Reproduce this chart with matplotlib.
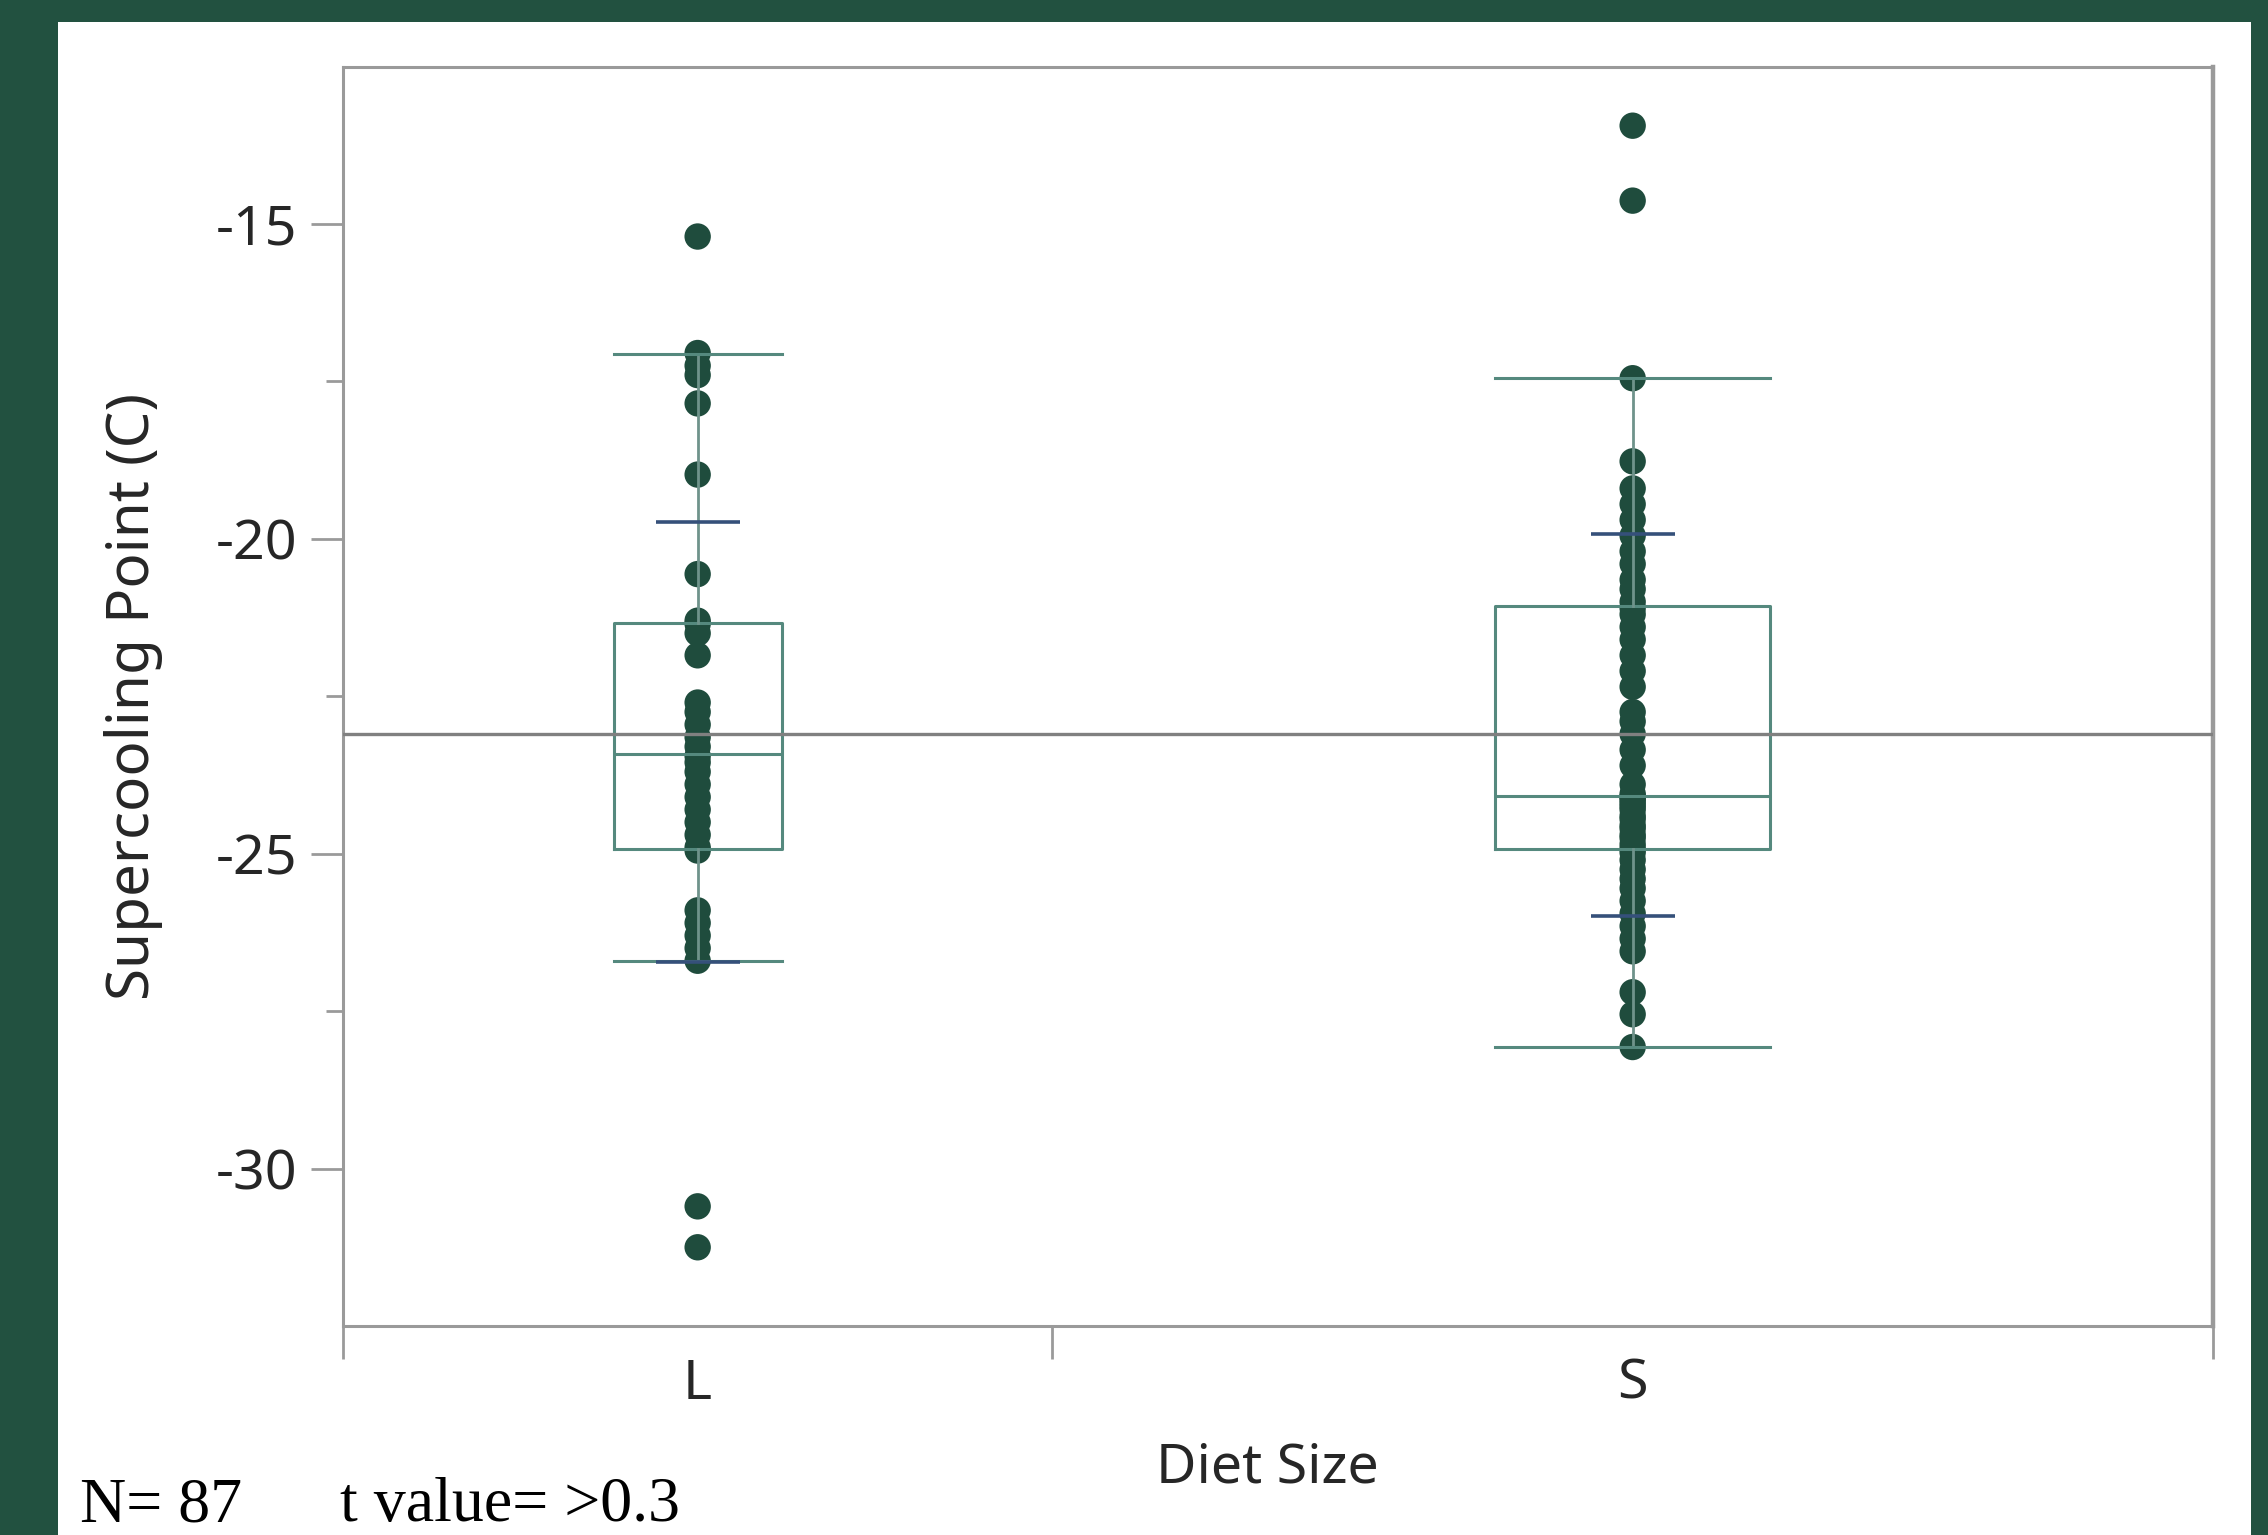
import numpy as np
import matplotlib.pyplot as plt
from matplotlib.patches import Rectangle

plt.rcParams['font.family'] = ['Noto Sans', 'DejaVu Sans']
plt.rcParams['axes.unicode_minus'] = False

# === Data ===
groups = ["L", "S"]
counts = [33, 54]

supercool_L = [-31.25, -30.6, -26.7, -26.5, -26.3, -26.1, -25.9, -24.95,
               -24.9, -24.7, -24.5, -24.3, -24.1, -23.9, -23.7, -23.55,
               -23.45, -23.3, -23.15, -22.95, -22.75, -22.6, -21.85, -21.5,
               -21.35, -21.3, -20.56, -18.98, -17.85, -17.4, -17.25, -17.05,
               -15.2]
supercool_S = [-28.07, -27.55, -27.2, -26.55, -26.35, -26.15, -25.95, -25.75,
               -25.55, -25.4, -25.25, -25.1, -24.98, -24.92, -24.85, -24.75,
               -24.7, -24.6, -24.55, -24.45, -24.4, -24.3, -24.25, -24.2,
               -24.15, -24.1, -24.1, -24.05, -23.9, -23.6, -23.35, -23.1,
               -22.9, -22.75, -22.35, -22.1, -21.85, -21.6, -21.4, -21.2,
               -21.1, -21.0, -20.8, -20.65, -20.4, -20.2, -19.95, -19.7,
               -19.45, -19.2, -18.77, -17.45, -14.63, -13.44]

# quantile box summaries (lower whisker, Q1, median, Q3, upper whisker)
whisker_lo = [-26.7, -28.07]
q1 = [-24.93, -24.93]
median = [-23.42, -24.08]
q3 = [-21.33, -21.07]
whisker_hi = [-17.07, -17.45]

# std dev lines
group_mean = [-23.23, -22.96]
group_sd = [3.49, 3.03]
grand_mean = -23.1

# === Style ===
bg_green = "#225140"
dot_c = "#1f4c3d"
box_c = "#55897e"
sd_c = "#35507a"
axis_c = "#9a9a9a"
text_c = "#262626"
fs = 40

W, H = 2268, 1535
fig = plt.figure(figsize=(W / 100, H / 100), dpi=100, facecolor=bg_green)
fig.patches.append(Rectangle((58 / W, 0), (2251 - 58) / W, 1 - 22 / H,
                             transform=fig.transFigure, facecolor="white",
                             edgecolor="none", zorder=-10))

ax = fig.add_axes([343 / W, 1 - 1326 / H, (2213 - 343) / W, (1326 - 66.5) / H])
ax.set_facecolor("white")

# category widths follow group sizes
frac = np.array(counts) / sum(counts)
edges = np.concatenate([[0], np.cumsum(frac)])
centers = (edges[:-1] + edges[1:]) / 2
box_w = 0.237 * frac
sd_w = 0.045

stats = []
for i in range(len(groups)):
    stats.append(dict(whislo=whisker_lo[i], q1=q1[i], med=median[i],
                      q3=q3[i], whishi=whisker_hi[i], fliers=[]))

for vals, c in zip([supercool_L, supercool_S], centers):
    ax.scatter(np.full(len(vals), c), vals, s=19 ** 2, color=dot_c,
               edgecolors="none", zorder=2)

ax.bxp(stats, positions=centers, widths=box_w, capwidths=box_w,
       showfliers=False, manage_ticks=False,
       boxprops=dict(color=box_c, lw=2.2),
       medianprops=dict(color=box_c, lw=2.2),
       whiskerprops=dict(color="#6f938b", lw=2.0),
       capprops=dict(color=box_c, lw=2.2), zorder=3)

for c, m, sd in zip(centers, group_mean, group_sd):
    ax.hlines([m - sd, m + sd], c - sd_w / 2, c + sd_w / 2, color=sd_c,
              lw=2.6, zorder=4)

ax.axhline(grand_mean, color="#808080", lw=2.4, zorder=3)

# === Axes ===
ax.set_xlim(0, 1)
ax.set_ylim(-32.5, -12.5)
ax.set_yticks([-30, -25, -20, -15])
ax.set_yticks([-27.5, -22.5, -17.5], minor=True)
ax.set_xticks(edges)
ax.set_xticklabels([])
ax.set_xticks(centers, minor=True)
ax.set_xticklabels(groups, minor=True)

for s in ax.spines.values():
    s.set_color(axis_c)
    s.set_linewidth(2.2)
ax.spines["right"].set_linewidth(3.2)

ax.tick_params(axis="y", which="major", length=23, width=2, color=axis_c,
               labelsize=fs, labelcolor=text_c, pad=10)
ax.tick_params(axis="y", which="minor", length=12, width=2, color=axis_c)
ax.tick_params(axis="x", which="major", length=24, width=2, color=axis_c)
ax.tick_params(axis="x", which="minor", length=0, labelsize=fs,
               labelcolor=text_c, pad=22)

ax.set_ylabel("Supercooling Point (C)", fontsize=42, color=text_c)
ax.yaxis.set_label_coords(-0.096, 0.5)
fig.text(1267 / W, 1 - 1468 / H, "Diet Size", ha="center", va="center",
         fontsize=fs, color=text_c)

fig.text(80 / W, 0.0, "N= 87", family="Liberation Serif", fontsize=46,
         color="black", va="bottom")
fig.text(340 / W, 0.0, "t value= >0.3", family="Liberation Serif",
         fontsize=46, color="black", va="bottom")

fig.savefig("out.png", dpi=100, facecolor=bg_green)
